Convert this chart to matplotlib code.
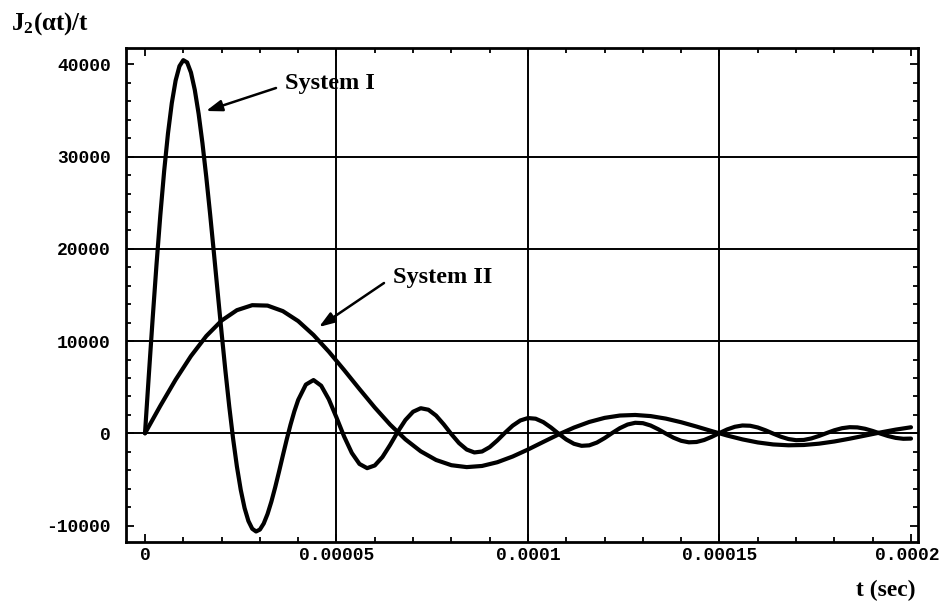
import numpy as np
import matplotlib.pyplot as plt
from matplotlib.transforms import ScaledTranslation

# sample times in microseconds, values of J2(alpha t)/t
t1_us = list(range(0, 41)) + list(range(42, 201, 2))
sys1 = [0, 6301, 12444, 18274, 23647, 28433, 32521, 35821, 38268, 39822,
        40470, 40226, 39130, 37246, 34660, 31470, 27800, 23781, 19529, 15189,
        10892, 6760, 2903, -581, -3613, -6136, -8109, -9513, -10353, -10649,
        -10442, -9786, -8749, -7409, -5846, -4149, -2399, -679, 938, 2389,
        3621,
        5284, 5776, 5162, 3685, 1709, -357, -2131, -3325, -3781, -3489,
        -2574, -1262, 169, 1444, 2339, 2720, 2556, 1921, 970, -94,
        -1064, -1763, -2077, -1974, -1501, -771, 61, 829, 1392, 1654,
        1583, 1211, 628, -45, -672, -1137, -1358, -1305, -1003, -522,
        37, 561, 952, 1141, 1100, 847, 441, -33, -479, -814,
        -977, -942, -726, -378, 31, 417, 707, 848, 819, 631,
        327, -30, -368, -622, -746, -720, -555, -286, 29, 329,
        554, 663, 640, 492, 252, -29, -296, -497, -595, -573]

t2_us = list(range(0, 201, 4))
sys2 = [0, 2979, 5816, 8377, 10545, 12226, 13354, 13896, 13850, 13250,
        12171, 10661, 8852, 6859, 4801, 2794, 944, -661, -1955, -2893,
        -3461, -3667, -3542, -3137, -2518, -1758, -934, -119, 620, 1230,
        1673, 1927, 1988, 1868, 1593, 1200, 732, 236, -242, -662,
        -992, -1208, -1300, -1268, -1124, -887, -584, -248, 90, 399,
        654]

x_ticks = [0, 0.00005, 0.0001, 0.00015, 0.0002]
x_labels = ['0', '0.00005', '0.0001', '0.00015', '0.0002']
y_ticks = [-10000, 0, 10000, 20000, 30000, 40000]
y_labels = ['-10000', '0', '10000', '20000', '30000', '40000']
x_grid = [0.00005, 0.0001, 0.00015]
y_grid = [0, 10000, 20000, 30000]

plt.rcParams['mathtext.fontset'] = 'custom'
plt.rcParams['mathtext.rm'] = 'Liberation Serif:bold'
plt.rcParams['mathtext.it'] = 'Liberation Serif:bold'
plt.rcParams['mathtext.bf'] = 'Liberation Serif:bold'

W, H = 943, 610
fig = plt.figure(figsize=(W / 100, H / 100), dpi=100)
ax = fig.add_axes([126 / W, 1 - 541.7 / H, (918 - 126) / W, (541.7 - 48.3) / H])

for g in x_grid:
    ax.axvline(g, color='black', lw=1.4, zorder=1)
for g in y_grid:
    ax.axhline(g, color='black', lw=1.4, zorder=1)

t1 = np.array(t1_us) * 1e-6
t2 = np.array(t2_us) * 1e-6
ax.plot(t1, sys1, color='black', lw=3.0, solid_capstyle='round',
        solid_joinstyle='round', zorder=3)
ax.plot(t2, sys2, color='black', lw=3.0, solid_capstyle='round',
        solid_joinstyle='round', zorder=3)

ax.set_xlim(-0.496e-5, 20.183e-5)
ax.set_ylim(-11757, 41757)

ax.set_xticks(x_ticks)
ax.set_xticklabels(x_labels)
ax.set_xticks(np.arange(0, 0.00020001, 0.00001), minor=True)
ax.set_yticks(y_ticks)
ax.set_yticklabels(y_labels)
ax.set_yticks(np.arange(-10000, 40001, 2000), minor=True)

ax.tick_params(which='both', direction='in', top=True, right=True,
               color='black', width=1.3)
ax.tick_params(which='major', length=6)
ax.tick_params(which='minor', length=3.5)
ax.tick_params(axis='x', pad=4)
ax.tick_params(axis='y', pad=11)
for lab in ax.get_xticklabels() + ax.get_yticklabels():
    lab.set_fontfamily('Liberation Mono')
    lab.set_fontweight('bold')
    lab.set_fontsize(13)
# nudge the last x label left so it stays inside the picture
last = ax.get_xticklabels()[-1]
last.set_transform(last.get_transform()
                   + ScaledTranslation(-4 / 100, 0, fig.dpi_scale_trans))

for sp in ax.spines.values():
    sp.set_linewidth(2.0)
    sp.set_color('black')

serif = dict(family='Liberation Serif', weight='bold', color='black')

# y label at top left, x label bottom right
fig.text(11 / W, 1 - 24 / H, r'$\mathbf{J_2(\alpha t)/t}$', fontsize=18,
         ha='left', va='center')
fig.text(916 / W, 1 - 590 / H, 't (sec)', fontsize=17, ha='right',
         va='center', **serif)

# annotations
fig.text(285 / W, 1 - 84 / H, 'System I', fontsize=17.5, ha='left',
         va='center', **serif)
fig.text(393 / W, 1 - 278 / H, 'System II', fontsize=17.5, ha='left',
         va='center', **serif)

arrow = dict(arrowstyle='-|>,head_length=0.8,head_width=0.28', lw=1.8,
             color='black', shrinkA=0, shrinkB=0, mutation_scale=12)
ax.annotate('', xy=(206, H - 111), xytext=(276, H - 88),
            xycoords='figure pixels', textcoords='figure pixels',
            arrowprops=arrow)
ax.annotate('', xy=(319, H - 327), xytext=(384, H - 283),
            xycoords='figure pixels', textcoords='figure pixels',
            arrowprops=arrow)

fig.savefig('out.png', dpi=100)
